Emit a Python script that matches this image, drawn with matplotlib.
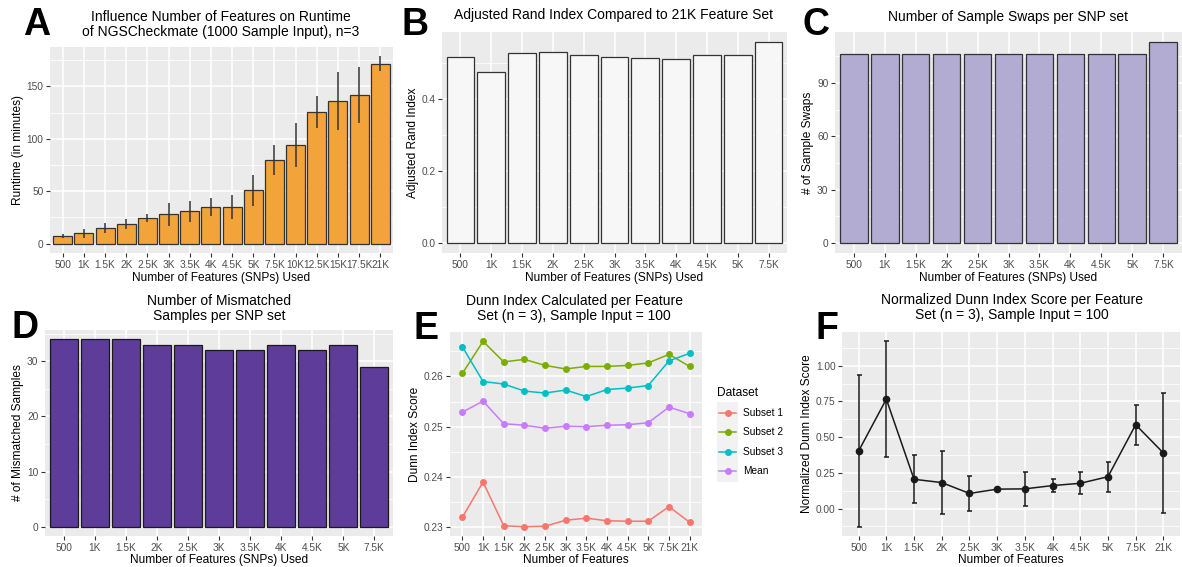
import matplotlib
matplotlib.use("Agg")
import matplotlib.pyplot as plt
from matplotlib.patches import Rectangle
from matplotlib.lines import Line2D
import numpy as np

plt.rcParams['font.family'] = ['Liberation Sans', 'DejaVu Sans']

# ---------------- data ----------------
labels_a = ['500', '1K', '1.5K', '2K', '2.5K', '3K', '3.5K', '4K', '4.5K', '5K',
            '7.5K', '10K', '12.5K', '15K', '17.5K', '21K']
runtime = [7.0, 10.0, 14.8, 18.7, 24.4, 28.2, 30.8, 34.6, 34.9, 50.7,
           79.6, 94.5, 125.9, 136.4, 141.5, 171.6]
runtime_err = [2.0, 4.3, 4.4, 5.0, 3.8, 11.0, 9.7, 8.5, 11.6, 14.7,
               14.0, 21.0, 15.2, 27.6, 26.8, 7.3]

labels_b = ['500', '1K', '1.5K', '2K', '2.5K', '3K', '3.5K', '4K', '4.5K', '5K', '7.5K']
ari = [0.517, 0.475, 0.528, 0.530, 0.521, 0.517, 0.513, 0.509, 0.520, 0.522, 0.557]

swaps = [106, 106, 106, 106, 106, 106, 106, 106, 106, 106, 113]

mismatched = [34, 34, 34, 33, 33, 32, 32, 33, 32, 33, 29]

labels_e = ['500', '1K', '1.5K', '2K', '2.5K', '3K', '3.5K', '4K', '4.5K', '5K', '7.5K', '21K']
subset1 = [0.2320, 0.2390, 0.2303, 0.2301, 0.2302, 0.2314, 0.2318, 0.2313, 0.2312, 0.2312, 0.2341, 0.2310]
subset2 = [0.2606, 0.2670, 0.2629, 0.2634, 0.2622, 0.2615, 0.2620, 0.2620, 0.2622, 0.2627, 0.2644, 0.2620]
subset3 = [0.2659, 0.2590, 0.2585, 0.2571, 0.2567, 0.2573, 0.2560, 0.2574, 0.2577, 0.2582, 0.2631, 0.2646]
mean_di = [0.2529, 0.2551, 0.2506, 0.2503, 0.2497, 0.2501, 0.2500, 0.2503, 0.2504, 0.2508, 0.2539, 0.2526]
series_names = ['Subset 1', 'Subset 2', 'Subset 3', 'Mean']

norm_dunn = [0.403, 0.766, 0.205, 0.182, 0.106, 0.136, 0.138, 0.161, 0.177, 0.223, 0.587, 0.389]
norm_dunn_err = [0.530, 0.404, 0.168, 0.223, 0.120, 0.006, 0.121, 0.047, 0.076, 0.105, 0.140, 0.418]

# ---------------- style ----------------
W, H = 1182, 567
fig = plt.figure(figsize=(W / 100, H / 100), dpi=100)

PANEL_BG = '#EBEBEB'
TICK_COL = '#4D4D4D'
EDGE = '#333333'


def add_panel(l, r, t, b):
    return fig.add_axes([l / W, 1 - b / H, (r - l) / W, (b - t) / H])


def gg_style(ax, n, yticks, ylim, minor):
    ax.set_facecolor(PANEL_BG)
    for s in ax.spines.values():
        s.set_visible(False)
    ax.set_xlim(-0.6, n - 1 + 0.6)
    ax.set_ylim(*ylim)
    ax.set_xticks(range(n))
    ax.set_yticks(yticks)
    ax.set_yticks(minor, minor=True)
    ax.grid(True, which='major', color='white', linewidth=1.1)
    ax.grid(True, which='minor', axis='y', color='white', linewidth=0.55)
    ax.set_axisbelow(True)
    ax.tick_params(axis='both', which='major', length=2.75, width=0.8, color='#333333',
                   labelsize=7.3, labelcolor=TICK_COL, pad=2.0)
    ax.tick_params(axis='both', which='minor', length=0)


def letter(x, y, s):
    fig.text(x / W, 1 - y / H, s, fontsize=27, fontweight='bold', ha='left', va='center',
             color='black')


def title(x, y, s):
    fig.text(x / W, 1 - y / H, s, fontsize=10, ha='center', va='center', linespacing=1.1)


XL = dict(fontsize=8.6, labelpad=2)
XLB = dict(fontsize=8.6, labelpad=1)

# ---------------- A ----------------
ax = add_panel(50, 393, 47, 253)
xa = np.arange(len(labels_a))
gg_style(ax, len(labels_a), [0, 50, 100, 150], (-8.93, 187.5), [25, 75, 125, 175])
ax.bar(xa, runtime, width=0.9, color='#F2A33A', edgecolor=EDGE, linewidth=0.9, zorder=2)
ax.errorbar(xa, runtime, yerr=runtime_err, fmt='none', ecolor='#333333', elinewidth=1.1,
            capsize=0, zorder=3)
ax.set_xticklabels(labels_a)
ax.set_xlabel('Number of Features (SNPs) Used', **XL)
ax.set_ylabel('Runtime (in minutes)', **XL)
letter(23, 25, 'A')
title(221, 24.5, 'Influence Number of Features on Runtime\nof NGSCheckmate (1000 Sample Input), n=3')

# ---------------- B ----------------
ax = add_panel(442, 787, 32, 253)
xb = np.arange(len(labels_b))
gg_style(ax, len(labels_b), [0.0, 0.2, 0.4], (-0.0279, 0.585), [0.1, 0.3, 0.5])
ax.bar(xb, ari, width=0.9, color='#F7F7F7', edgecolor=EDGE, linewidth=0.9, zorder=2)
ax.set_xticklabels(labels_b)
ax.set_yticklabels(['0.0', '0.2', '0.4'])
ax.set_xlabel('Number of Features (SNPs) Used', **XL)
ax.set_ylabel('Adjusted Rand Index', **XL)
letter(402, 25, 'B')
title(614, 15, 'Adjusted Rand Index Compared to 21K Feature Set')

# ---------------- C ----------------
ax = add_panel(835, 1182, 32, 253)
gg_style(ax, len(labels_b), [0, 30, 60, 90], (-5.65, 118.65), [15, 45, 75, 105])
ax.bar(xb, swaps, width=0.9, color='#B2ABD2', edgecolor=EDGE, linewidth=0.9, zorder=2)
ax.set_xticklabels(labels_b)
ax.set_xlabel('Number of Features (SNPs) Used', **XL)
ax.set_ylabel('# of Sample Swaps', **XL)
letter(803, 25, 'C')
title(1008, 17, 'Number of Sample Swaps per SNP set')

# ---------------- D ----------------
ax = add_panel(45, 393, 330, 536)
gg_style(ax, len(labels_b), [0, 10, 20, 30], (-1.7, 35.7), [5, 15, 25, 35])
ax.bar(xb, mismatched, width=0.9, color='#5E3C99', edgecolor='#1a1a1a', linewidth=0.9, zorder=2)
ax.set_xticklabels(labels_b)
ax.set_xlabel('Number of Features (SNPs) Used', **XLB)
ax.set_ylabel('# of Mismatched Samples', **XL)
letter(12, 328, 'D')
title(219, 308.5, 'Number of Mismatched\nSamples per SNP set')

# ---------------- E ----------------
ax = add_panel(450, 702, 332, 536)
xe = np.arange(len(labels_e))
gg_style(ax, len(labels_e), [0.23, 0.24, 0.25, 0.26], (0.22826, 0.26885),
         [0.235, 0.245, 0.255, 0.265])
cols = ['#F8766D', '#7CAE00', '#00BFC4', '#C77CFF']
for vals, c, nm in zip([subset1, subset2, subset3, mean_di], cols, series_names):
    ax.plot(xe, vals, color=c, linewidth=1.1, marker='o', markersize=4, label=nm, zorder=3)
ax.set_xticklabels(labels_e)
ax.set_yticklabels(['0.23', '0.24', '0.25', '0.26'])
ax.set_xlabel('Number of Features', **XLB)
ax.set_ylabel('Dunn Index Score', **XL)
letter(413, 329, 'E')
title(574, 308.5, 'Dunn Index Calculated per Feature\nSet (n = 3), Sample Input = 100')

# legend for E
fig.patches.append(Rectangle((717 / W, 1 - 482 / H), 21 / W, 80 / H, transform=fig.transFigure,
                             facecolor='#F2F2F2', edgecolor='none', zorder=0))
fig.text(717 / W, 1 - 393 / H, 'Dataset', fontsize=8.6, ha='left', va='center')
for i, (c, nm) in enumerate(zip(cols, series_names)):
    yy = 1 - (413 + i * 19.3) / H
    fig.lines.append(Line2D([719 / W, 736 / W], [yy, yy], transform=fig.transFigure,
                            color=c, linewidth=1.1))
    fig.lines.append(Line2D([727.5 / W], [yy], transform=fig.transFigure, color=c,
                            marker='o', markersize=4))
    fig.text(743 / W, yy, nm, fontsize=7.3, ha='left', va='center', color='black')

# ---------------- F ----------------
ax = add_panel(842, 1180, 332, 536)
gg_style(ax, len(labels_e), [0.0, 0.25, 0.5, 0.75, 1.0], (-0.192, 1.236),
         [-0.125, 0.125, 0.375, 0.625, 0.875, 1.125])
ax.errorbar(xe, norm_dunn, yerr=norm_dunn_err, fmt='none', ecolor='#1a1a1a', elinewidth=1.1,
            capsize=1.8, capthick=1.1, zorder=3)
ax.plot(xe, norm_dunn, color='#1a1a1a', linewidth=1.1, marker='o', markersize=4.5, zorder=4)
ax.set_xticklabels(labels_e)
ax.set_yticklabels(['0.00', '0.25', '0.50', '0.75', '1.00'])
ax.set_xlabel('Number of Features', **XLB)
ax.set_ylabel('Normalized Dunn Index Score', **XL)
letter(815, 329, 'F')
title(1012, 307.5, 'Normalized Dunn Index Score per Feature\nSet (n = 3), Sample Input = 100')

fig.savefig('out.png', dpi=100, facecolor='white')
